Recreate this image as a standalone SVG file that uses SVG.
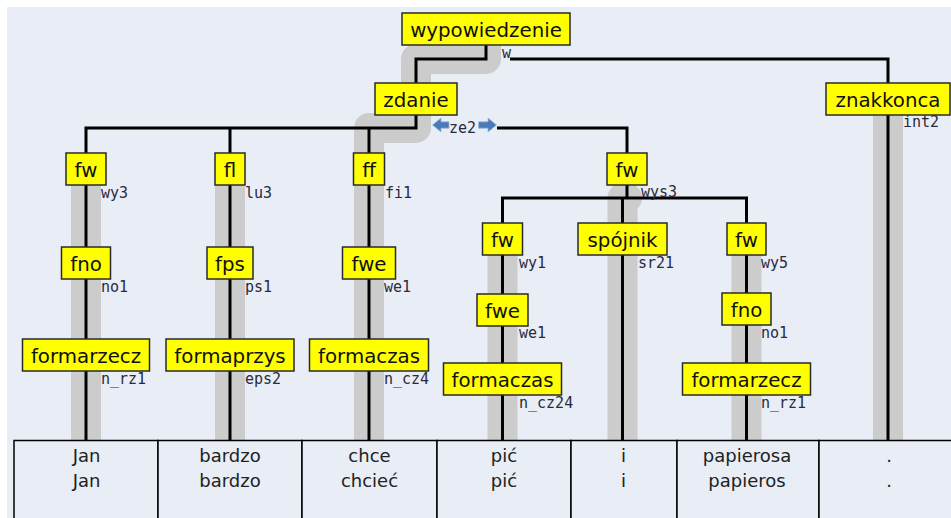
<svg xmlns="http://www.w3.org/2000/svg" width="951" height="518" viewBox="0 0 951 518">
<style>
.bg{fill:#e9edf5}
.band{fill:none;stroke:#cccccc;stroke-width:30;stroke-linejoin:round;stroke-linecap:butt}
.edge{fill:none;stroke:#000;stroke-width:3;stroke-linejoin:miter}
.box{fill:#ffff00;stroke:#2a2a2a;stroke-width:1.5}
.nt{font-family:"DejaVu Sans",Verdana,sans-serif;font-size:19.8px;fill:#111;text-anchor:middle}
.lb{font-family:"DejaVu Sans Mono",monospace;font-size:15px;fill:#2a2a3c}
.cell{fill:#e9edf5;stroke:#000;stroke-width:1.5}
.tt{font-family:"DejaVu Sans",Verdana,sans-serif;font-size:18px;fill:#222;text-anchor:middle}
.arr{fill:#4a7ab8;stroke:#9db8dc;stroke-width:0.8}
</style>
<rect x="0" y="0" width="951" height="518" fill="#ffffff"/>
<rect class="bg" x="7" y="7" width="944" height="511"/>

<g id="head-bands">
<path class="band" d="M86,185 V440"/>
<path class="band" d="M230,185 V440"/>
<path class="band" d="M486,46 V59 H416 V128 H369 V440"/>
<path class="band" d="M502.5,255 V440"/>
<path class="band" style="stroke-linecap:round" d="M627,198 H622.5 V440"/>
<path class="band" d="M746.5,255 V440"/>
<path class="band" d="M888,115 V440"/>
</g>

<g id="connectors">
<path class="edge" d="M486,45 V59 H416 V83"/>
<path class="edge" d="M510,59 H888 V440"/>
<path class="edge" d="M416,115 V128 H86 V440"/>
<path class="edge" d="M497,128 H627 V198"/>
<path class="edge" d="M230,128 V440"/>
<path class="edge" d="M369,128 V440"/>
<path class="edge" d="M502.5,440 V198 H746.5 V440"/>
<path class="edge" d="M622.5,198 V440"/>
<g id="ze2">
<path class="arr" d="M432.5,125 L441,118 V121.8 H449 V128.2 H441 V132 Z"/>
<text class="lb" x="449" y="132.7">ze2</text>
<path class="arr" d="M496.5,125 L488,118 V121.8 H478.5 V128.2 H488 V132 Z"/>
</g>
</g>

<g id="n-wypowiedzenie"><rect class="box" x="402" y="13" width="168" height="32"/><text class="nt" x="486" y="37">wypowiedzenie</text><text class="lb" x="502" y="57.5">w</text></g>
<g id="n-zdanie"><rect class="box" x="375" y="83" width="82" height="32"/><text class="nt" x="416" y="107">zdanie</text></g>
<g id="n-znakkonca"><rect class="box" x="826" y="83" width="124" height="32"/><text class="nt" x="888" y="107">znakkonca</text><text class="lb" x="903" y="127">int2</text></g>

<g id="n-fw-wy3"><rect class="box" x="66" y="153" width="40" height="32"/><text class="nt" x="86" y="177">fw</text><text class="lb" x="101" y="197.5">wy3</text></g>
<g id="n-fl"><rect class="box" x="215" y="153" width="30" height="32"/><text class="nt" x="230" y="177">fl</text><text class="lb" x="245" y="197.5">lu3</text></g>
<g id="n-ff"><rect class="box" x="353.5" y="153" width="31" height="32"/><text class="nt" x="369" y="177">ff</text><text class="lb" x="385" y="197.5">fi1</text></g>
<g id="n-fw-wys3"><rect class="box" x="607" y="153" width="40" height="32"/><text class="nt" x="627" y="177">fw</text><text class="lb" x="641" y="196.5">wys3</text></g>

<g id="n-fno-1"><rect class="box" x="61.5" y="247" width="49" height="32"/><text class="nt" x="86" y="271">fno</text><text class="lb" x="101" y="291.5">no1</text></g>
<g id="n-fps"><rect class="box" x="207" y="247" width="46" height="32"/><text class="nt" x="230" y="271">fps</text><text class="lb" x="245" y="291.5">ps1</text></g>
<g id="n-fwe-1"><rect class="box" x="342.5" y="247" width="53" height="32"/><text class="nt" x="369" y="271">fwe</text><text class="lb" x="384" y="291.5">we1</text></g>

<g id="n-formarzecz-1"><rect class="box" x="22.5" y="339" width="127" height="32"/><text class="nt" x="86" y="363">formarzecz</text><text class="lb" x="101" y="383.5">n_rz1</text></g>
<g id="n-formaprzys"><rect class="box" x="166" y="339" width="128" height="32"/><text class="nt" x="230" y="363">formaprzys</text><text class="lb" x="245" y="383.5">eps2</text></g>
<g id="n-formaczas-1"><rect class="box" x="309.5" y="339" width="119" height="32"/><text class="nt" x="369" y="363">formaczas</text><text class="lb" x="384" y="383.5">n_cz4</text></g>

<g id="n-fw-wy1"><rect class="box" x="482.5" y="223" width="40" height="32"/><text class="nt" x="502.5" y="247">fw</text><text class="lb" x="519" y="267.5">wy1</text></g>
<g id="n-spojnik"><rect class="box" x="578" y="223" width="89" height="32"/><text class="nt" x="622.5" y="247">spójnik</text><text class="lb" x="638" y="267.5">sr21</text></g>
<g id="n-fw-wy5"><rect class="box" x="727" y="223" width="39" height="32"/><text class="nt" x="746.5" y="247">fw</text><text class="lb" x="761" y="267.5">wy5</text></g>

<g id="n-fwe-2"><rect class="box" x="477" y="294" width="51" height="32"/><text class="nt" x="502.5" y="318">fwe</text><text class="lb" x="519" y="338">we1</text></g>
<g id="n-fno-2"><rect class="box" x="722" y="293" width="49" height="32"/><text class="nt" x="746.5" y="317">fno</text><text class="lb" x="761" y="338">no1</text></g>

<g id="n-formaczas-2"><rect class="box" x="443.5" y="363" width="118" height="32"/><text class="nt" x="502.5" y="387">formaczas</text><text class="lb" x="519" y="407.5">n_cz24</text></g>
<g id="n-formarzecz-2"><rect class="box" x="682.5" y="363" width="128" height="32"/><text class="nt" x="746.5" y="387">formarzecz</text><text class="lb" x="761" y="407.5">n_rz1</text></g>

<g id="tokens">
<rect class="cell" x="14" y="440.5" width="144" height="90"/>
<rect class="cell" x="158" y="440.5" width="144" height="90"/>
<rect class="cell" x="302" y="440.5" width="135" height="90"/>
<rect class="cell" x="437" y="440.5" width="134" height="90"/>
<rect class="cell" x="571" y="440.5" width="106" height="90"/>
<rect class="cell" x="677" y="440.5" width="142" height="90"/>
<rect class="cell" x="819" y="440.5" width="150" height="90"/>
<text class="tt" x="86.5" y="461.5">Jan</text><text class="tt" x="86.5" y="486.7">Jan</text>
<text class="tt" x="230" y="461.5">bardzo</text><text class="tt" x="230" y="486.7">bardzo</text>
<text class="tt" x="369.5" y="461.5">chce</text><text class="tt" x="369.5" y="486.7">chcieć</text>
<text class="tt" x="504" y="461.5">pić</text><text class="tt" x="504" y="486.7">pić</text>
<text class="tt" x="623.5" y="461.5">i</text><text class="tt" x="623.5" y="486.7">i</text>
<text class="tt" x="747" y="461.5">papierosa</text><text class="tt" x="747" y="486.7">papieros</text>
<text class="tt" x="889" y="461.5">.</text><text class="tt" x="889" y="486.7">.</text>
</g>
</svg>
